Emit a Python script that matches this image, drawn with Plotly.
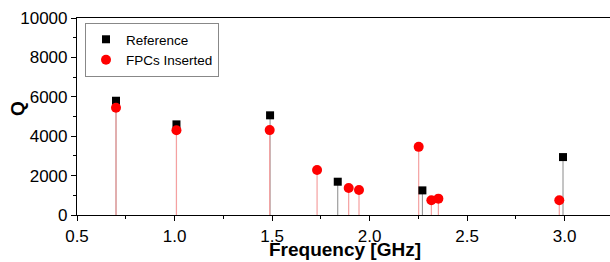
import plotly.graph_objects as go

ref_freq = [0.70, 1.01, 1.49, 1.837, 2.271, 2.992]
ref_q = [5800, 4600, 5060, 1690, 1250, 2940]
fpc_freq = [0.70, 1.01, 1.488, 1.731, 1.893, 1.946, 2.252, 2.317, 2.353, 2.973]
fpc_q = [5440, 4300, 4310, 2280, 1370, 1270, 3460, 750, 830, 750]

x_ticks = [0.5, 1.0, 1.5, 2.0, 2.5, 3.0]
x_labels = ["0.5", "1.0", "1.5", "2.0", "2.5", "3.0"]
y_ticks = [0, 2000, 4000, 6000, 8000, 10000]
y_labels = ["0", "2000", "4000", "6000", "8000", "10000"]


def stems(xs, ys):
    sx, sy = [], []
    for x, y in zip(xs, ys):
        sx += [x, x, None]
        sy += [0, y, None]
    return sx, sy


fig = go.Figure()
rx, ry = stems(ref_freq, ref_q)
fx, fy = stems(fpc_freq, fpc_q)
fig.add_trace(go.Scatter(x=rx, y=ry, mode="lines", line=dict(color="#8a8a8a", width=1),
                         showlegend=False, hoverinfo="skip"))
fig.add_trace(go.Scatter(x=fx, y=fy, mode="lines", line=dict(color="#f5a0a0", width=1.2),
                         showlegend=False, hoverinfo="skip"))
fig.add_trace(go.Scatter(x=ref_freq, y=ref_q, mode="markers", name="Reference",
                         marker=dict(symbol="square", color="black", size=8)))
fig.add_trace(go.Scatter(x=fpc_freq, y=fpc_q, mode="markers", name="FPCs Inserted",
                         marker=dict(symbol="circle", color="#ff0000", size=10)))

fig.update_layout(
    width=610, height=262,
    margin=dict(l=77, r=0, t=18, b=47),
    plot_bgcolor="white", paper_bgcolor="white",
    font=dict(family="Arial, Liberation Sans, sans-serif", color="black"),
    legend=dict(x=8 / 533, y=1 - 5 / 197, xanchor="left", yanchor="top",
                bordercolor="#888", borderwidth=1, bgcolor="white",
                font=dict(size=13.5), itemwidth=30, tracegroupgap=0),
    xaxis=dict(range=[0.5, 3.233], tickvals=x_ticks, ticktext=x_labels,
               showgrid=False, zeroline=False, showline=True, linecolor="black", linewidth=1.2,
               mirror=True, ticks="outside", ticklen=5, tickwidth=1, tickcolor="black",
               tickfont=dict(size=17), automargin=False,
               minor=dict(dtick=0.25, tick0=0.5, ticks="outside", ticklen=3, tickcolor="black", showgrid=False)),
    yaxis=dict(range=[0, 10000], tickvals=y_ticks, ticktext=y_labels,
               showgrid=False, zeroline=False, showline=True, linecolor="black", linewidth=1.2,
               ticks="outside", ticklen=5, tickwidth=1, tickcolor="black",
               tickfont=dict(size=17), automargin=False,
               minor=dict(dtick=1000, tick0=0, ticks="outside", ticklen=3, tickcolor="black", showgrid=False)),
    annotations=[
        dict(text="<b>Frequency [GHz]</b>", xref="paper", yref="paper",
             x=(345 - 77) / 533, y=-22 / 197, xanchor="center", yanchor="top",
             showarrow=False, font=dict(size=19)),
        dict(text="<b>Q</b>", xref="paper", yref="paper",
             x=-60 / 533, y=(215 - 109) / 197, xanchor="center", yanchor="middle",
             textangle=-90, showarrow=False, font=dict(size=19)),
    ],
)

fig.write_html("out.html", config={"displayModeBar": False},
               post_script="document.body.style.margin='0';document.body.style.overflow='hidden';")
